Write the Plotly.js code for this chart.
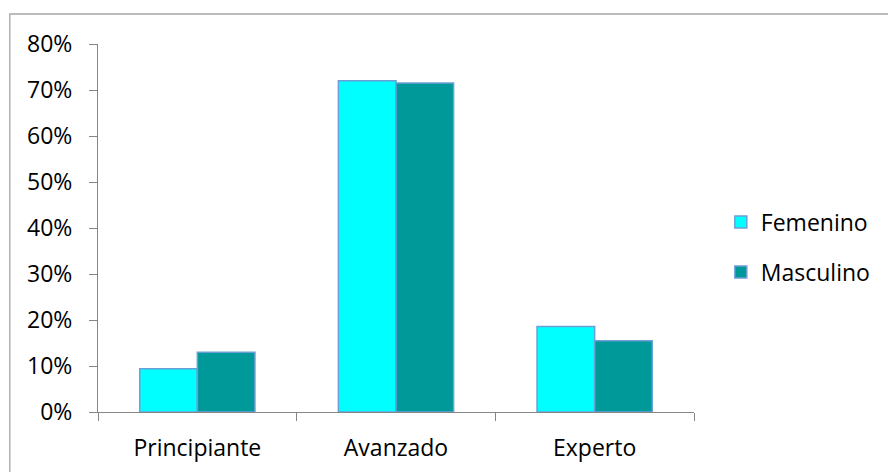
<!DOCTYPE html>
<html>
<head>
<meta charset="utf-8">
<script src="https://cdn.plot.ly/plotly-3.0.1.min.js"></script>
<style>
  html, body { margin: 0; padding: 0; background: #ffffff; }
  #chart { width: 888px; height: 472px; }
</style>
</head>
<body>
<div id="chart"></div>
<script>
// Nivel por sexo (proporción de cada grupo)
const categories = ['Principiante', 'Avanzado', 'Experto'];
const femenino = [0.094, 0.720, 0.186];
const masculino = [0.130, 0.715, 0.155];
const seriesNames = ['Femenino', 'Masculino'];

const W = 888, H = 472;
const M = { l: 98, r: 192, t: 44, b: 60 };
const plotW = W - M.l - M.r, plotH = H - M.t - M.b;
// frame around the chart area, expressed in paper units
const px = x => (x - M.l) / plotW;
const py = y => (H - M.b - y) / plotH;

const outline = { color: '#6c9fd6', width: 1.5 };

const traces = [
  { type: 'bar', name: seriesNames[0], x: categories, y: femenino,
    marker: { color: '#00ffff', line: outline }, legendgroup: 'f',
    hoverinfo: 'skip' },
  { type: 'bar', name: seriesNames[1], x: categories, y: masculino,
    marker: { color: '#009999', line: outline }, legendgroup: 'm',
    hoverinfo: 'skip' }
];

const font = { family: '"Open Sans", sans-serif', size: 23, color: '#000000' };

const layout = {
  width: W, height: H,
  margin: M,
  paper_bgcolor: '#ffffff', plot_bgcolor: '#ffffff',
  font: font,
  barmode: 'group',
  bargap: 0.42, bargroupgap: 0,
  showlegend: true,
  legend: {
    x: 1.045, xanchor: 'left', y: 0.448, yanchor: 'middle',
    font: font, traceorder: 'grouped', tracegroupgap: 17,
    bgcolor: 'rgba(0,0,0,0)'
  },
  xaxis: {
    type: 'category', tickson: 'boundaries',
    showline: true, linecolor: '#868686', linewidth: 1,
    ticks: 'outside', ticklen: 8, tickcolor: '#868686',
    showgrid: false, zeroline: false, ticklabelstandoff: 15,
    fixedrange: true
  },
  yaxis: {
    range: [0, 0.8], dtick: 0.1, tickformat: '.0%',
    showline: true, linecolor: '#868686', linewidth: 1,
    ticks: 'outside', ticklen: 8, tickcolor: '#868686',
    showgrid: false, zeroline: false, ticklabelstandoff: 12,
    fixedrange: true
  },
  shapes: [{
    type: 'rect', xref: 'paper', yref: 'paper', layer: 'below',
    x0: px(9.5), x1: px(W + 5), y0: py(H + 5), y1: py(14),
    line: { color: '#a6a6a6', width: 1.3 }, fillcolor: 'rgba(0,0,0,0)'
  }]
};

Plotly.newPlot('chart', traces, layout, { displayModeBar: false, staticPlot: true });
</script>
</body>
</html>
